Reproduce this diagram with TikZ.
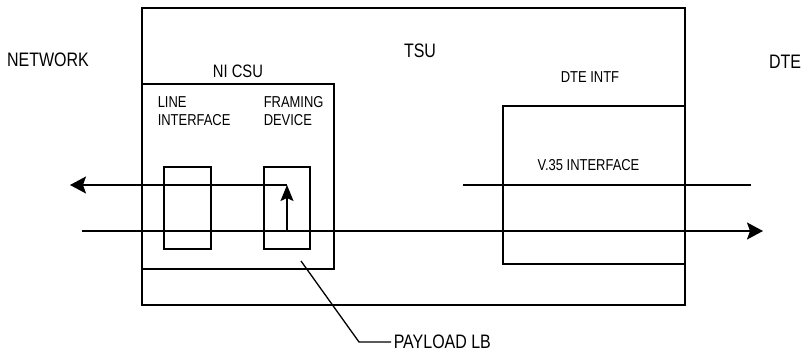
\documentclass[tikz,border=0pt]{standalone}
\usepackage{fontspec}
\setmainfont[FakeStretch=0.82]{Liberation Sans}
\usetikzlibrary{arrows.meta}
\tikzset{blk/.style={draw, line width=1.5pt, inner sep=0pt},
 big/.style={inner sep=0pt, font=\fontsize{19.5}{20}\selectfont},
 mid/.style={inner sep=0pt, font=\fontsize{18}{20}\selectfont},
 sml/.style={inner sep=0pt, font=\fontsize{15.8}{18}\selectfont, align=left}}
\begin{document}
\begin{tikzpicture}[x=1pt,y=-1pt,line width=1.5pt,>={Stealth[length=16pt,width=17pt,inset=3pt]}]
 \useasboundingbox (0,0) rectangle (807,359);
 % boxes
 \node[blk, minimum width=543pt, minimum height=297pt] (tsu) at (413.5,156.5) {};
 \node[blk, minimum width=192pt, minimum height=185pt] (nicsu) at (238,176.5) {};
 \node[blk, minimum width=47pt, minimum height=82pt] (lineif) at (187.5,208) {};
 \node[blk, minimum width=46pt, minimum height=82pt] (framing) at (287,208) {};
 \node[blk, minimum width=182pt, minimum height=158pt] (dteintf) at (594,185) {};
 % labels
 \node[big, anchor=base] (network) at (48,66) {NETWORK};
 \node[big, anchor=base] (tsulbl) at (420,57) {TSU};
 \node[big, anchor=base] (dte) at (785,68) {DTE};
 \node[mid, anchor=base] (nicsulbl) at (238,77) {NI CSU};
 \node[sml, anchor=base] (dteintflbl) at (590,82) {DTE INTF};
 \node[sml, anchor=base west] (lineiflbl) at (157,125) {LINE\\INTERFACE};
 \node[sml, anchor=base west] (framinglbl) at (263,125) {FRAMING\\DEVICE};
 \node[sml, anchor=base] (v35lbl) at (588.5,170) {V.35 INTERFACE};
 \node[big, anchor=west, inner sep=2pt] (payload) at (391,342) {PAYLOAD LB};
 % signal paths
 \coordinate (fdTop) at (287,185);
 \coordinate (fdBot) at (287,231);
 \coordinate (netOut) at (70,185);
 \coordinate (netIn) at (82,231);
 \coordinate (dteOut) at (763,231);
 \coordinate (v35L) at (463,185);
 \coordinate (v35R) at (751,185);
 \coordinate (lbA) at (301,261);
 \coordinate (lbB) at (359,342);
 \draw[->] (fdTop) -- (netOut);
 \draw[->] (netIn) -- (dteOut);
 \draw[-{Stealth[length=16pt,width=13pt,inset=3pt]}] (fdBot) -- (fdTop);
 \draw (v35L) -- (v35R);
 \draw[line width=1.3pt] (lbA) -- (lbB) -- (payload.west);
\end{tikzpicture}
\end{document}
